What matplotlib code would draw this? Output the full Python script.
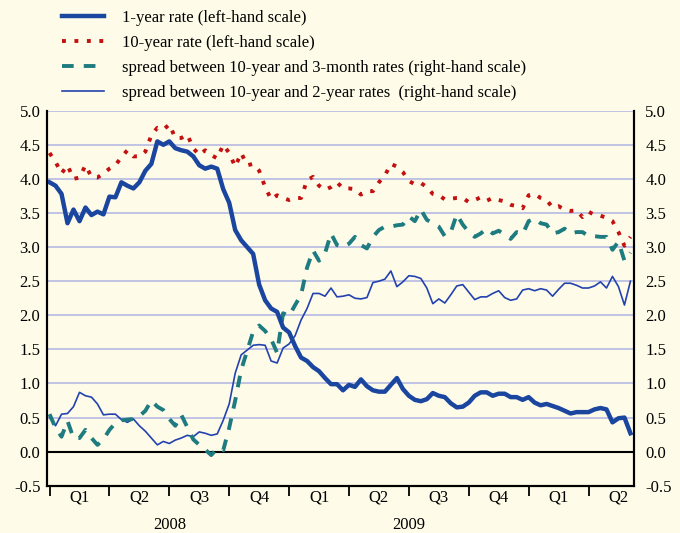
import numpy as np
import matplotlib.pyplot as plt

plt.rcParams['font.family'] = ['Liberation Serif', 'DejaVu Serif']

# readings taken every tenth of a quarter, from the start of 2008 (percent)
one_year = [3.95, 3.90, 3.78, 3.35, 3.55, 3.38, 3.58, 3.47, 3.52, 3.48,
            3.74, 3.73, 3.95, 3.90, 3.86, 3.95, 4.12, 4.22, 4.55, 4.50,
            4.55, 4.45, 4.42, 4.40, 4.33, 4.20, 4.15, 4.18, 4.15, 3.85,
            3.65, 3.25, 3.10, 3.00, 2.90, 2.45, 2.22, 2.10, 2.05, 1.82,
            1.75, 1.55, 1.38, 1.33, 1.24, 1.18, 1.08, 0.99, 0.99, 0.90,
            0.98, 0.95, 1.06, 0.96, 0.90, 0.88, 0.88, 0.98, 1.08, 0.92,
            0.82, 0.76, 0.74, 0.77, 0.86, 0.82, 0.80, 0.71, 0.65, 0.66,
            0.72, 0.82, 0.87, 0.87, 0.82, 0.85, 0.85, 0.80, 0.80, 0.76,
            0.80, 0.72, 0.68, 0.70, 0.67, 0.64, 0.60, 0.56, 0.58, 0.58,
            0.58, 0.62, 0.64, 0.62, 0.43, 0.49, 0.50, 0.27]

ten_year = [4.38, 4.25, 4.08, 4.20, 4.00, 4.02, 4.20, 4.03, 4.02, 4.08,
            4.15, 4.20, 4.32, 4.42, 4.33, 4.33, 4.40, 4.64, 4.75, 4.72,
            4.80, 4.60, 4.60, 4.65, 4.45, 4.35, 4.42, 4.35, 4.30, 4.50,
            4.38, 4.18, 4.38, 4.20, 4.22, 4.12, 3.88, 3.70, 3.76, 3.72,
            3.69, 3.72, 3.72, 3.98, 4.03, 3.90, 3.84, 3.88, 3.95, 3.86,
            3.86, 3.85, 3.77, 3.82, 3.82, 3.95, 4.05, 4.22, 4.18, 4.10,
            3.97, 3.92, 3.94, 3.88, 3.78, 3.76, 3.70, 3.71, 3.72, 3.72,
            3.66, 3.69, 3.73, 3.68, 3.72, 3.69, 3.67, 3.62, 3.60, 3.57,
            3.76, 3.78, 3.72, 3.69, 3.58, 3.60, 3.55, 3.53, 3.54, 3.44,
            3.52, 3.47, 3.46, 3.43, 3.38, 3.22, 3.02, 3.15]

spread_10y_3m = [0.55, 0.35, 0.22, 0.45, 0.20, 0.20, 0.32, 0.20, 0.10, 0.18,
                 0.32, 0.42, 0.46, 0.47, 0.48, 0.52, 0.60, 0.75, 0.66, 0.61,
                 0.48, 0.38, 0.54, 0.36, 0.18, 0.10, 0.03, -0.05, 0.05, 0.02,
                 0.35, 0.75, 1.20, 1.48, 1.76, 1.85, 1.77, 1.65, 1.45, 2.03,
                 1.99, 2.15, 2.30, 2.70, 2.95, 2.80, 2.91, 3.20, 3.03, 3.00,
                 3.05, 3.15, 3.03, 2.98, 3.15, 3.25, 3.30, 3.30, 3.32, 3.33,
                 3.45, 3.38, 3.55, 3.40, 3.35, 3.30, 3.16, 3.22, 3.48, 3.33,
                 3.22, 3.15, 3.20, 3.27, 3.20, 3.24, 3.18, 3.12, 3.22, 3.19,
                 3.38, 3.42, 3.35, 3.33, 3.20, 3.22, 3.27, 3.20, 3.22, 3.22,
                 3.16, 3.16, 3.15, 3.15, 2.96, 3.08, 2.80, 2.92]

spread_10y_2y = [0.50, 0.38, 0.55, 0.56, 0.66, 0.87, 0.82, 0.80, 0.70, 0.54,
                 0.55, 0.55, 0.47, 0.43, 0.48, 0.38, 0.30, 0.20, 0.10, 0.15,
                 0.12, 0.17, 0.20, 0.24, 0.22, 0.29, 0.27, 0.24, 0.26, 0.46,
                 0.70, 1.15, 1.42, 1.49, 1.56, 1.57, 1.56, 1.33, 1.30, 1.52,
                 1.58, 1.70, 1.93, 2.10, 2.32, 2.32, 2.28, 2.40, 2.27, 2.28,
                 2.30, 2.25, 2.24, 2.26, 2.48, 2.50, 2.53, 2.65, 2.42, 2.49,
                 2.58, 2.57, 2.54, 2.40, 2.17, 2.24, 2.18, 2.30, 2.43, 2.45,
                 2.34, 2.23, 2.27, 2.27, 2.32, 2.36, 2.26, 2.22, 2.24, 2.37,
                 2.39, 2.36, 2.39, 2.37, 2.28, 2.38, 2.47, 2.47, 2.44, 2.40,
                 2.40, 2.43, 2.49, 2.40, 2.57, 2.42, 2.15, 2.50]

quarter_labels = ['Q1', 'Q2', 'Q3', 'Q4', 'Q1', 'Q2', 'Q3', 'Q4', 'Q1', 'Q2']
year_labels = ['2008', '2009']

# time in quarters since 1 Jan 2008
t = np.arange(len(one_year)) / 10

bg = '#FEFCE8'
fig = plt.figure(figsize=(6.8, 5.33), dpi=100, facecolor=bg)
ax = fig.add_axes([0.0696, 0.0886, 0.8628, 0.7037], facecolor=bg)

ax.axhline(0, color='black', lw=1.5, zorder=2)

l4, = ax.plot(t, spread_10y_2y, color='#2342B0', lw=1.2, zorder=3,
              label='spread between 10-year and 2-year rates  (right-hand scale)')
l3, = ax.plot(t, spread_10y_3m, color='#1E7B80', lw=2.8, ls=(0, (3, 2.6)), zorder=4,
              label='spread between 10-year and 3-month rates (right-hand scale)')
l2, = ax.plot(t, ten_year, color='#C41010', lw=2.8, ls=(0, (1, 2.2)), zorder=4,
              label='10-year rate (left-hand scale)')
l1, = ax.plot(t, one_year, color='#1B46A0', lw=3.2, zorder=5,
              label='1-year rate (left-hand scale)')

ax.set_xlim(-0.037, 9.76)
ax.set_ylim(-0.5, 5.0)

yt = np.arange(-0.5, 5.01, 0.5)
ylab = [f'{v:.1f}' for v in yt]
ax.set_yticks(yt)
ax.set_yticklabels(ylab)
ax.yaxis.grid(True, color='#B5BAE3', lw=1.2)
ax.set_axisbelow(True)
ax.tick_params(axis='y', length=0, pad=5, labelsize=12)

ax.set_xticks(np.arange(10))
ax.set_xticklabels([])
ax.set_xticks(np.arange(10) + 0.5, minor=True)
ax.set_xticklabels(quarter_labels, minor=True)
ax.tick_params(axis='x', which='major', length=7, width=1.3, direction='out', color='black')
ax.tick_params(axis='x', which='minor', length=0, pad=3, labelsize=12)

for i, yr in enumerate(year_labels):
    ax.text(2 + 4 * i, -0.105, yr, transform=ax.get_xaxis_transform(),
            ha='center', va='center', fontsize=12)

ax2 = ax.twinx()
ax2.set_ylim(ax.get_ylim())
ax2.set_yticks(yt)
ax2.set_yticklabels(ylab)
ax2.tick_params(axis='y', length=0, pad=8, labelsize=12)

for a in (ax, ax2):
    a.spines['top'].set_visible(False)
    for s in ('left', 'right', 'bottom'):
        a.spines[s].set_color('black')
        a.spines[s].set_linewidth(1.5)

fig.legend(handles=[l1, l2, l3, l4], loc='upper left', bbox_to_anchor=(0.091, 0.981),
           frameon=False, fontsize=12, handlelength=2.5, handletextpad=1.1,
           labelspacing=0.535, borderpad=0, borderaxespad=0)

fig.savefig('out.png', dpi=100, facecolor=bg)
